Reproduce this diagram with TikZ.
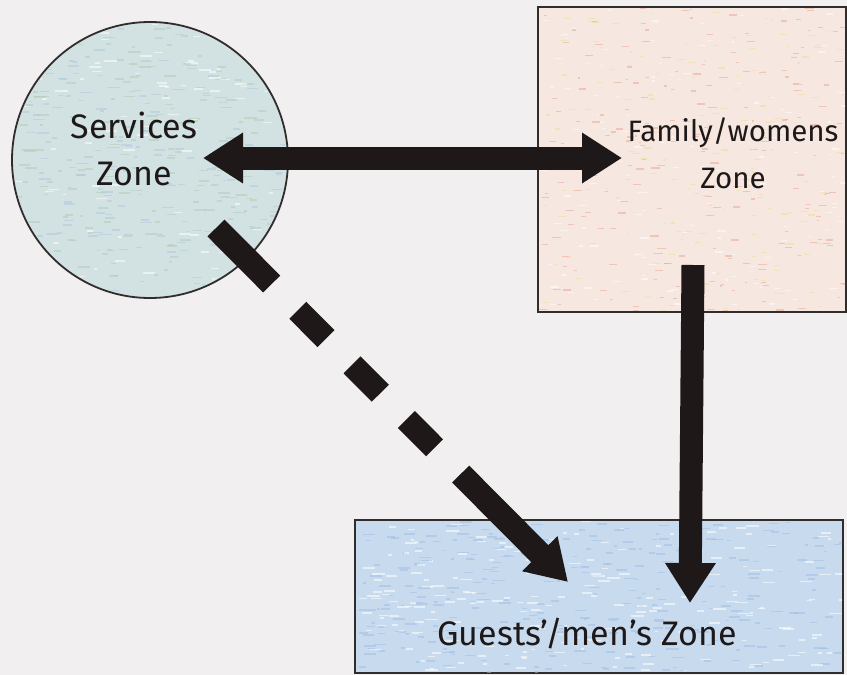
\documentclass[tikz,border=0pt]{standalone}
\usepackage{fontspec}
\setmainfont{Fira Sans}
\usetikzlibrary{arrows.meta}
\definecolor{bgpaper}{RGB}{241,239,239}
\definecolor{svcfill}{RGB}{210,225,226}
\definecolor{famfill}{RGB}{246,232,224}
\definecolor{gstfill}{RGB}{200,218,238}
\definecolor{ink}{RGB}{30,24,24}
\definecolor{edge}{RGB}{50,45,45}
\definecolor{svcA}{RGB}{180,206,184}
\definecolor{svcB}{RGB}{176,202,222}
\definecolor{famA}{RGB}{232,170,150}
\definecolor{famB}{RGB}{240,222,160}
\definecolor{gstA}{RGB}{160,192,228}
\tikzset{
  zone/.style={draw=edge, line width=1.8pt, inner sep=0pt},
  lbl/.style={text=ink, font=\fontsize{34}{47}\selectfont, align=center, inner sep=0pt},
  fatarrow/.style={draw=ink, line width=23pt, line cap=butt},
  speck/.style={line width=1.6pt, opacity=0.55},
}
\begin{document}
\begin{tikzpicture}[x=1pt, y=-1pt]
  \useasboundingbox (0,0) rectangle (847,675);
  \fill[bgpaper] (0,0) rectangle (847,675);
  % zones
  \node[zone, circle, fill=svcfill, minimum size=276pt] (svc) at (150,160) {};
  \node[zone, rectangle, fill=famfill, minimum width=308pt, minimum height=305pt] (fam) at (692,159.5) {};
  \node[zone, rectangle, fill=gstfill, minimum width=488pt, minimum height=153pt] (gst) at (599,596.5) {};
  % crayon texture
  \pgfmathsetseed{11}
  \begin{scope}
    \clip (150,160) circle (136pt);
    \foreach \i in {1,...,500} {
      \pgfmathsetmacro\px{12+rnd*276}\pgfmathsetmacro\py{22+rnd*276}\pgfmathsetmacro\pl{3+rnd*10}
      \pgfmathparse{rnd}\let\pc\pgfmathresult
      \ifdim\pc pt<0.4pt \def\cc{svcA}\else\ifdim\pc pt<0.75pt \def\cc{svcB}\else\def\cc{white}\fi\fi
      \draw[speck, \cc] (\px,\py) -- ++(\pl,0);
    }
  \end{scope}
  \begin{scope}
    \clip (539,8) rectangle (845,311);
    \foreach \i in {1,...,500} {
      \pgfmathsetmacro\px{539+rnd*306}\pgfmathsetmacro\py{8+rnd*303}\pgfmathsetmacro\pl{2+rnd*7}
      \pgfmathparse{rnd}\let\pc\pgfmathresult
      \ifdim\pc pt<0.4pt \def\cc{famA}\else\ifdim\pc pt<0.7pt \def\cc{famB}\else\def\cc{white}\fi\fi
      \draw[speck, line width=1.2pt, \cc] (\px,\py) -- ++(\pl,0);
    }
  \end{scope}
  \begin{scope}
    \clip (356,521) rectangle (842,672);
    \foreach \i in {1,...,500} {
      \pgfmathsetmacro\px{356+rnd*486}\pgfmathsetmacro\py{521+rnd*151}\pgfmathsetmacro\pl{3+rnd*10}
      \pgfmathparse{rnd}\let\pc\pgfmathresult
      \ifdim\pc pt<0.55pt \def\cc{gstA}\else\def\cc{white}\fi
      \draw[speck, \cc] (\px,\py) -- ++(\pl,0);
    }
  \end{scope}
  % labels
  \node[lbl] (svcL) at (134,149) {Services\\Zone};
  \node[lbl, font=\fontsize{29.5}{47}\selectfont] (famL) at (733,153) {Family/womens\\Zone};
  \node[lbl] (gstL) at (587,634) {Guests'/men's Zone};
  % connector end points
  \coordinate (hL) at (203,158);
  \coordinate (hR) at (622,158);
  \coordinate (vT) at (693,265);
  \coordinate (vB) at (690,603);
  \coordinate (dS) at (216,228);
  \coordinate (dE) at (568,582);
  % connectors
  \draw[fatarrow, {Triangle[length=40pt, width=48pt]}-{Triangle[length=40pt, width=48pt]}] (hL) -- (hR);
  \draw[fatarrow, -{Triangle[length=40pt, width=48pt]}] (vT) -- (vB);
  \draw[fatarrow, line width=24pt, dash pattern=on 79pt off 37pt on 40pt off 37pt on 40pt off 37pt on 40pt off 37pt on 400pt,
        -{Triangle[length=40pt, width=47pt]}] (dS) -- (dE);
\end{tikzpicture}
\end{document}
